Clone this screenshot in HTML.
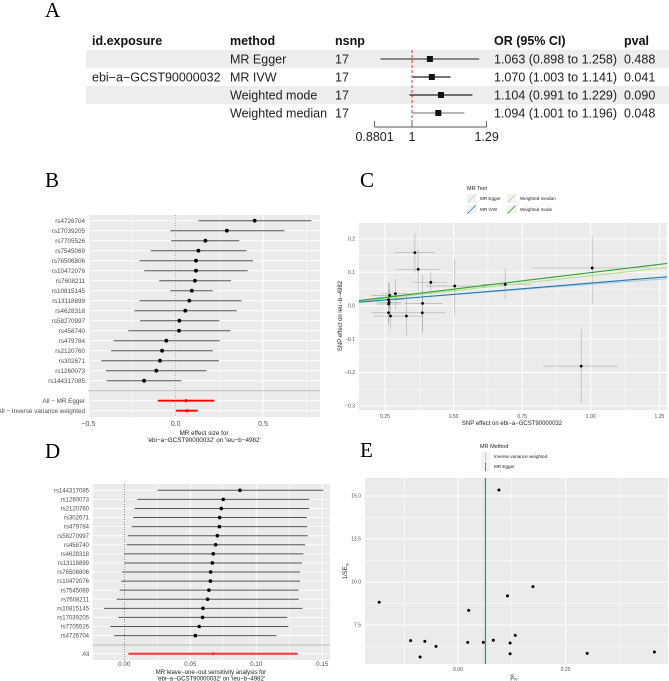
<!DOCTYPE html>
<html><head><meta charset="utf-8"><style>
html,body{margin:0;padding:0;background:#fff;}
svg{display:block;font-family:"Liberation Sans",sans-serif;}
</style></head><body>
<svg id="chart" width="669" height="681" viewBox="0 0 669 681" xmlns="http://www.w3.org/2000/svg"></svg>
<script>
// ---- Panel A data ----
const aMethods = ["MR Egger","MR IVW","Weighted mode","Weighted median"];
const aNsnp = [17,17,17,17];
const aOR = [1.063,1.070,1.104,1.094];
const aLo = [0.898,1.003,0.991,1.001];
const aHi = [1.258,1.141,1.229,1.196];
const aP = ["0.488","0.041","0.090","0.048"];
const aTicks = [0.8801,1,1.29];
const aTickLabels = ["0.8801","1","1.29"];
// ---- Panel B data ----
const bSnps = ["rs4726704","rs17039205","rs7705526","rs7545069","rs76506806","rs10472076","rs7608211","rs10815145","rs13118899","rs4628318","rs58270997","rs458740","rs479784","rs2120760","rs302671","rs1260073","rs144317085"];
const bEst = [0.452,0.293,0.17,0.13,0.116,0.116,0.11,0.092,0.078,0.055,0.021,0.019,-0.054,-0.078,-0.09,-0.111,-0.181];
const bLo = [0.129,-0.031,-0.027,-0.143,-0.208,-0.18,-0.094,-0.031,-0.208,-0.237,-0.204,-0.271,-0.355,-0.37,-0.426,-0.399,-0.395];
const bHi = [0.776,0.622,0.364,0.406,0.442,0.412,0.317,0.212,0.377,0.349,0.25,0.313,0.252,0.212,0.248,0.177,0.032];
const bSumLabels = ["All − MR Egger","All − Inverse variance weighted"];
const bSumEst = [0.059,0.066];
const bSumLo = [-0.103,0.002];
const bSumHi = [0.221,0.126];
const bTicks = [-0.5,0,0.5];
const bTickLabels = ["−0.5","0.0","0.5"];
// ---- Panel C data ----
const cX = [0.371,0.359,0.417,0.504,0.688,1.005,0.965,0.288,0.267,0.263,0.263,0.263,0.270,0.328,0.387,0.386,0.265];
const cY = [0.109,0.159,0.070,0.059,0.064,0.113,-0.181,0.036,0.031,0.018,0.005,-0.021,-0.031,-0.031,0.007,-0.021,0.010];
const cXlo = [0.293,0.285,0.352,0.40,0.60,0.785,0.827,0.24,0.20,0.21,0.22,0.20,0.21,0.27,0.32,0.31,0.22];
const cXhi = [0.45,0.432,0.475,0.62,0.78,1.222,1.10,0.34,0.33,0.32,0.31,0.33,0.33,0.39,0.46,0.47,0.31];
const cYlo = [0.045,0.10,0.035,-0.03,0.02,0.005,-0.29,-0.01,-0.01,-0.05,-0.03,-0.06,-0.07,-0.09,-0.08,-0.08,-0.03];
const cYhi = [0.17,0.218,0.10,0.14,0.112,0.205,-0.071,0.08,0.07,0.07,0.05,0.02,0.01,0.03,0.09,0.04,0.05];
const cMethods = ["MR Egger","MR IVW","Weighted median","Weighted mode"];
const cSlope = [0.061,0.0677,0.0898,0.099];
const cIntercept = [0.003,0,0,0];
const cXTicks = [0.25,0.5,0.75,1.0,1.25];
const cXTickLabels = ["0.25","0.50","0.75","1.00","1.25"];
const cYTicks = [-0.3,-0.2,-0.1,0,0.1,0.2];
const cYTickLabels = ["−0.3","−0.2","−0.1","0.0","0.1","0.2"];
// ---- Panel D data ----
const dSnps = ["rs144317085","rs1260073","rs2120760","rs302671","rs479784","rs58270997","rs458740","rs4628318","rs13118899","rs76506806","rs10472076","rs7545069","rs7608211","rs10815145","rs17039205","rs7705526","rs4726704"];
const dEst = [0.0876,0.075,0.0735,0.0722,0.072,0.0705,0.0692,0.0674,0.0667,0.0654,0.0652,0.0641,0.0631,0.0596,0.0593,0.0568,0.0538];
const dLo = [0.025,0.0098,0.0078,0.0066,0.0056,0.0026,0.0018,0.0,0.0003,-0.0018,-0.0025,-0.0035,-0.0058,-0.0154,-0.0045,-0.0106,-0.0076];
const dHi = [0.1508,0.140,0.140,0.1384,0.1386,0.139,0.1369,0.1357,0.1346,0.1331,0.1331,0.132,0.1323,0.135,0.1235,0.1243,0.1154];
const dAllEst = [0.0672];
const dAllLo = [0.0031];
const dAllHi = [0.1314];
const dTicks = [0,0.05,0.10,0.15];
const dTickLabels = ["0.00","0.05","0.10","0.15"];
// ---- Panel E data ----
const eX = [-0.183,-0.11,-0.088,-0.077,-0.051,0.0225,0.0248,0.0588,0.082,0.095,0.115,0.121,0.121,0.133,0.174,0.30,0.456];
const eY = [8.82,6.59,5.64,6.55,6.26,6.49,8.35,6.49,6.61,15.35,9.19,6.45,5.83,6.9,9.73,5.85,5.93];
const eMethods = ["Inverse variance weighted","MR Egger"];
const eBeta = [0.0645,0.0635];
const eXTicks = [0,0.25];
const eXTickLabels = ["0.00","0.25"];
const eYTicks = [7.5,10,12.5,15];
const eYTickLabels = ["7.5","10.0","12.5","15.0"];

const NS="http://www.w3.org/2000/svg";
const svg=document.getElementById('chart');
function mk(tag,attrs,parent){const e=document.createElementNS(NS,tag);for(const k in attrs)e.setAttribute(k,attrs[k]);(parent||svg).appendChild(e);return e;}
function tx(x,y,s,attrs,parent){const e=mk('text',Object.assign({x:x,y:y},attrs||{}),parent);e.textContent=s;return e;}
function grp(){return mk('g',{});}

// ===== panel letters =====
[["A",45,17],["B",45,187],["C",360,187],["D",45,458],["E",360,457]].forEach(p=>{
  const t=tx(p[1],p[2],p[0],{'font-family':'"Liberation Serif",serif','font-size':21,fill:'#000'});
  
  
});

// ===== Panel A =====
const gA=grp();


const xA=v=>412+293*Math.log(v);
const rowA=i=>59+18*i;
const FA=12.5;
[0,2].forEach(i=>{const r=mk('rect',{x:86,y:rowA(i)-9,width:583,height:18,fill:'#ededed'},gA);
  
  });
[["id.exposure",92],["method",230],["nsnp",335],["OR (95% CI)",494],["pval",624]].forEach(h=>{
  const t=tx(h[1],45,h[0],{'font-size':FA,'font-weight':'bold',fill:'#111'},gA);
  
  });
const exp=tx(92,rowA(1)+4.5,"ebi−a−GCST90000032",{'font-size':FA,fill:'#222'},gA);


const ref=mk('line',{x1:xA(1),x2:xA(1),y1:50,y2:121,stroke:'#f00','stroke-width':0.8,'stroke-dasharray':'3,2'},gA);


aMethods.forEach((m,i)=>{
  const y=rowA(i);
  const t1=tx(230,y+4.5,m,{'font-size':FA,fill:'#222'},gA);
  
  
  const t2=tx(335,y+4.5,String(aNsnp[i]),{'font-size':FA,fill:'#222'},gA);
  
  
  const col=(i==0||i==3)?'#888':'#222';
  const l=mk('line',{x1:xA(aLo[i]),x2:xA(aHi[i]),y1:y,y2:y,stroke:col,'stroke-width':i==0?2:1.3},gA);
  
  
  const b=mk('rect',{x:xA(aOR[i])-3,y:y-3,width:6,height:6,fill:'#111'},gA);
  
  
  const t3=tx(494,y+4.5,aOR[i].toFixed(3)+" ("+aLo[i].toFixed(3)+" to "+aHi[i].toFixed(3)+")",{'font-size':FA,fill:'#222'},gA);
  
  
  const t4=tx(624,y+4.5,aP[i],{'font-size':FA,fill:'#222'},gA);
  
  
});
const axA=mk('line',{x1:xA(aTicks[0]),x2:xA(aTicks[2]),y1:127,y2:127,stroke:'#555','stroke-width':0.9},gA);


aTicks.forEach((v,i)=>{
  const t=mk('line',{x1:xA(v),x2:xA(v),y1:121,y2:127,stroke:'#555','stroke-width':0.9},gA);
  
  
  const l=tx(xA(v),141,aTickLabels[i],{'font-size':FA,fill:'#222','text-anchor':'middle'},gA);
  
  
});

// ===== Panel B =====
const gB=grp();


const xB=v=>175.7+174.7*v;
const yB=i=>220.7+10*i;
const pB={l:88,r:320,t:215,b:417};
const bgB=mk('rect',{x:pB.l,y:pB.t,width:pB.r-pB.l,height:pB.b-pB.t,fill:'#ebebeb'},gB);


[-0.25,0.25,0.75].forEach(v=>{const g=mk('line',{x1:xB(v),x2:xB(v),y1:pB.t,y2:pB.b,stroke:'#fff','stroke-width':0.5},gB);
  
  });
bTicks.forEach((v,i)=>{const g=mk('line',{x1:xB(v),x2:xB(v),y1:pB.t,y2:pB.b,stroke:'#fff','stroke-width':1},gB);
  
  
  const t=tx(xB(v),426,bTickLabels[i],{'font-size':7,fill:'#4d4d4d','text-anchor':'middle'},gB);
  
  });
const ysum=[400.7,410.7];
bSnps.forEach((s,i)=>{const g=mk('line',{x1:pB.l,x2:pB.r,y1:yB(i),y2:yB(i),stroke:'#fff','stroke-width':0.8},gB);
  
  });
ysum.forEach(y=>{const g=mk('line',{x1:pB.l,x2:pB.r,y1:y,y2:y,stroke:'#fff','stroke-width':0.8},gB);
  
  });
const sepB=mk('line',{x1:pB.l,x2:pB.r,y1:390.7,y2:390.7,stroke:'#c4c4c4','stroke-width':1.2},gB);


const dotB=mk('line',{x1:xB(0),x2:xB(0),y1:pB.t,y2:pB.b,stroke:'#777','stroke-width':0.7,'stroke-dasharray':'1,1.5'},gB);


bSnps.forEach((s,i)=>{
  const y=yB(i);
  const l=mk('line',{x1:xB(bLo[i]),x2:xB(bHi[i]),y1:y,y2:y,stroke:'#555','stroke-width':1},gB);
  
  
  const c=mk('circle',{cx:xB(bEst[i]),cy:y,r:1.9,fill:'#000'},gB);
  
  
  const t=tx(85,y+2.2,s,{'font-size':6.3,fill:'#4d4d4d','text-anchor':'end'},gB);
  
  
});
bSumLabels.forEach((s,i)=>{
  const y=ysum[i];
  const l=mk('line',{x1:xB(bSumLo[i]),x2:xB(bSumHi[i]),y1:y,y2:y,stroke:'#f00','stroke-width':1.8},gB);
  
  
  const c=mk('circle',{cx:xB(bSumEst[i]),cy:y,r:1.6,fill:'#f00'},gB);
  
  
  const t=tx(85,y+2.2,s,{'font-size':6.3,fill:'#4d4d4d','text-anchor':'end'},gB);
  
  
});
const bt1=tx(204,435,"MR effect size for",{'font-size':6.3,fill:'#222','text-anchor':'middle'},gB);


const bt2=tx(204,442,"'ebi−a−GCST90000032' on 'ieu−b−4982'",{'font-size':6.3,fill:'#222','text-anchor':'middle'},gB);



// ===== Panel C =====
const gC=grp();


const xC=v=>385+274.4*(v-0.25);
const yC=v=>305.7-334*v;
const pC={l:359,r:667,t:223,b:410};
const bgC=mk('rect',{x:pC.l,y:pC.t,width:pC.r-pC.l,height:pC.b-pC.t,fill:'#ebebeb'},gC);


[0.375,0.625,0.875,1.125].forEach(v=>{const g=mk('line',{x1:xC(v),x2:xC(v),y1:pC.t,y2:pC.b,stroke:'#fff','stroke-width':0.5},gC);
  
  });
[-0.25,-0.15,-0.05,0.05,0.15].forEach(v=>{const g=mk('line',{x1:pC.l,x2:pC.r,y1:yC(v),y2:yC(v),stroke:'#fff','stroke-width':0.5},gC);
  
  });
cXTicks.forEach((v,i)=>{const g=mk('line',{x1:xC(v),x2:xC(v),y1:pC.t,y2:pC.b,stroke:'#fff','stroke-width':1},gC);
  
  
  const t=tx(xC(v),418,cXTickLabels[i],{'font-size':5,fill:'#4d4d4d','text-anchor':'middle'},gC);
  
  });
cYTicks.forEach((v,i)=>{const g=mk('line',{x1:pC.l,x2:pC.r,y1:yC(v),y2:yC(v),stroke:'#fff','stroke-width':1},gC);
  
  
  const t=tx(355,yC(v)+1.7,cYTickLabels[i],{'font-size':5,fill:'#4d4d4d','text-anchor':'end'},gC);
  
  });
cX.forEach((v,i)=>{
  const h=mk('line',{x1:xC(cXlo[i]),x2:xC(cXhi[i]),y1:yC(cY[i]),y2:yC(cY[i]),stroke:'#b5b5b5','stroke-width':0.7},gC);
  
  
  const vv=mk('line',{x1:xC(v),x2:xC(v),y1:yC(cYlo[i]),y2:yC(cYhi[i]),stroke:'#b5b5b5','stroke-width':0.7},gC);
  
  
});
const cColors=['#a6cee3','#1f78b4','#b2df8a','#33a02c'];
cMethods.forEach((m,i)=>{
  const x0=0.155,x1=1.278;
  const l=mk('line',{x1:xC(x0),x2:xC(x1),y1:yC(cIntercept[i]+cSlope[i]*x0),y2:yC(cIntercept[i]+cSlope[i]*x1),stroke:cColors[i],'stroke-width':1.1},gC);
  
  
});
cX.forEach((v,i)=>{
  const c=mk('circle',{cx:xC(v),cy:yC(cY[i]),r:1.4,fill:'#000'},gC);
  
  
});
const cyl=tx(0,0,"SNP effect on ieu−b−4982",{'font-size':6,fill:'#222','text-anchor':'middle',transform:'translate(342,316) rotate(-90)'},gC);


const cxl=tx(512,425,"SNP effect on ebi−a−GCST90000032",{'font-size':6,fill:'#222','text-anchor':'middle'},gC);


const lgC=mk('g',{},gC);


const lgt=tx(467,190,"MR Test",{'font-size':5.5,fill:'#222'},lgC);


[[0,467,194],[1,467,205],[2,507,194],[3,507,205]].forEach(p=>{
  const i=p[0];
  const r=mk('rect',{x:p[1],y:p[2],width:9,height:9,fill:'#f2f2f2'},lgC);
  
  
  const l=mk('line',{x1:p[1]+0.5,y1:p[2]+8.5,x2:p[1]+8.5,y2:p[2]+0.5,stroke:cColors[i],'stroke-width':0.8},lgC);
  
  
  const t=tx(p[1]+13,p[2]+6,cMethods[i],{'font-size':4.6,fill:'#222'},lgC);
  
  
});

// ===== Panel D =====
const gD=grp();


const xD=v=>124.3+1320*v;
const yD=i=>490.3+9.08*i;
const pD={l:92.7,r:330,t:484,b:660};
const bgD=mk('rect',{x:pD.l,y:pD.t,width:pD.r-pD.l,height:pD.b-pD.t,fill:'#ebebeb'},gD);


[-0.025,0.025,0.075,0.125].forEach(v=>{const g=mk('line',{x1:xD(v),x2:xD(v),y1:pD.t,y2:pD.b,stroke:'#fff','stroke-width':0.5},gD);
  
  });
dTicks.forEach((v,i)=>{const g=mk('line',{x1:xD(v),x2:xD(v),y1:pD.t,y2:pD.b,stroke:'#fff','stroke-width':1},gD);
  
  
  const t=tx(xD(v),666,dTickLabels[i],{'font-size':6.3,fill:'#4d4d4d','text-anchor':'middle'},gD);
  
  });
const yAllD=653.7;
dSnps.forEach((s,i)=>{const g=mk('line',{x1:pD.l,x2:pD.r,y1:yD(i),y2:yD(i),stroke:'#fff','stroke-width':0.8},gD);
  
  });
const rgD=mk('line',{x1:pD.l,x2:pD.r,y1:yAllD,y2:yAllD,stroke:'#fff','stroke-width':0.8},gD);


const sepD=mk('line',{x1:pD.l,x2:pD.r,y1:645,y2:645,stroke:'#c4c4c4','stroke-width':1.2},gD);


const dotD=mk('line',{x1:xD(0),x2:xD(0),y1:pD.t,y2:pD.b,stroke:'#444','stroke-width':0.7,'stroke-dasharray':'1,1.5'},gD);


dSnps.forEach((s,i)=>{
  const y=yD(i);
  const l=mk('line',{x1:xD(dLo[i]),x2:xD(dHi[i]),y1:y,y2:y,stroke:'#555','stroke-width':1},gD);
  
  
  const c=mk('circle',{cx:xD(dEst[i]),cy:y,r:1.8,fill:'#000'},gD);
  
  
  const t=tx(89,y+2.1,s,{'font-size':6,fill:'#4d4d4d','text-anchor':'end'},gD);
  
  
});
const dal=mk('line',{x1:xD(dAllLo[0]),x2:xD(dAllHi[0]),y1:yAllD,y2:yAllD,stroke:'#f33','stroke-width':2},gD);


const dac=mk('circle',{cx:xD(dAllEst[0]),cy:yAllD,r:1.5,fill:'#f33'},gD);


const dat=tx(89,yAllD+2.1,"All",{'font-size':6,fill:'#4d4d4d','text-anchor':'end'},gD);


const dt1=tx(211,674,"MR leave−one−out sensitivity analysis for",{'font-size':6,fill:'#222','text-anchor':'middle'},gD);


const dt2=tx(211,680.5,"'ebi−a−GCST90000032' on 'ieu−b−4982'",{'font-size':6,fill:'#222','text-anchor':'middle'},gD);



// ===== Panel E =====
const gE=grp();


const xE=v=>458+430.7*v;
const yE=v=>625-17.2*(v-7.5);
const pE={l:365,r:668,t:478,b:664};
const bgE=mk('rect',{x:pE.l,y:pE.t,width:pE.r-pE.l,height:pE.b-pE.t,fill:'#ebebeb'},gE);


[-0.125,0.125,0.375].forEach(v=>{const g=mk('line',{x1:xE(v),x2:xE(v),y1:pE.t,y2:pE.b,stroke:'#fff','stroke-width':0.5},gE);
  
  });
[6.25,8.75,11.25,13.75].forEach(v=>{const g=mk('line',{x1:pE.l,x2:pE.r,y1:yE(v),y2:yE(v),stroke:'#fff','stroke-width':0.5},gE);
  
  });
eXTicks.forEach((v,i)=>{const g=mk('line',{x1:xE(v),x2:xE(v),y1:pE.t,y2:pE.b,stroke:'#fff','stroke-width':1},gE);
  
  
  const t=tx(xE(v),671,eXTickLabels[i],{'font-size':5,fill:'#4d4d4d','text-anchor':'middle'},gE);
  
  });
eYTicks.forEach((v,i)=>{const g=mk('line',{x1:pE.l,x2:pE.r,y1:yE(v),y2:yE(v),stroke:'#fff','stroke-width':1},gE);
  
  
  const t=tx(361,yE(v)+1.7,eYTickLabels[i],{'font-size':5,fill:'#4d4d4d','text-anchor':'end'},gE);
  
  });
const eColors=['#a6cee3','#1f78b4'];
eMethods.forEach((m,i)=>{
  const l=mk('line',{x1:xE(eBeta[i]),x2:xE(eBeta[i]),y1:pE.t,y2:pE.b,stroke:i==1?'#3f6f9f':'#a6cee3','stroke-width':1},gE);
  
  
});
eX.forEach((v,i)=>{
  const c=mk('circle',{cx:xE(v),cy:yE(eY[i]),r:1.5,fill:'#000'},gE);
  
  
});
const eyl=mk('text',{'font-size':6,fill:'#222','text-anchor':'middle',transform:'translate(347,571) rotate(-90)'},gE);
eyl.innerHTML='1/SE<tspan font-size="4" dy="1.5">IV</tspan>';


const exl=mk('text',{x:514,y:679,'font-size':6,fill:'#222','text-anchor':'middle'},gE);
exl.innerHTML='β<tspan font-size="4" dy="1.5">IV</tspan>';


const lgE=mk('g',{},gE);


const lget=tx(480,448,"MR Method",{'font-size':5.5,fill:'#222'},lgE);


eMethods.forEach((m,i)=>{
  const y=452+10*i;
  const r=mk('rect',{x:481,y:y,width:9,height:9,fill:'#f2f2f2'},lgE);
  
  
  const l=mk('line',{x1:485.5,x2:485.5,y1:y,y2:y+9,stroke:eColors[i],'stroke-width':0.8},lgE);
  
  
  const t=tx(494,y+6,m,{'font-size':4.6,fill:'#222'},lgE);
  
  
});
</script>
</body></html>
